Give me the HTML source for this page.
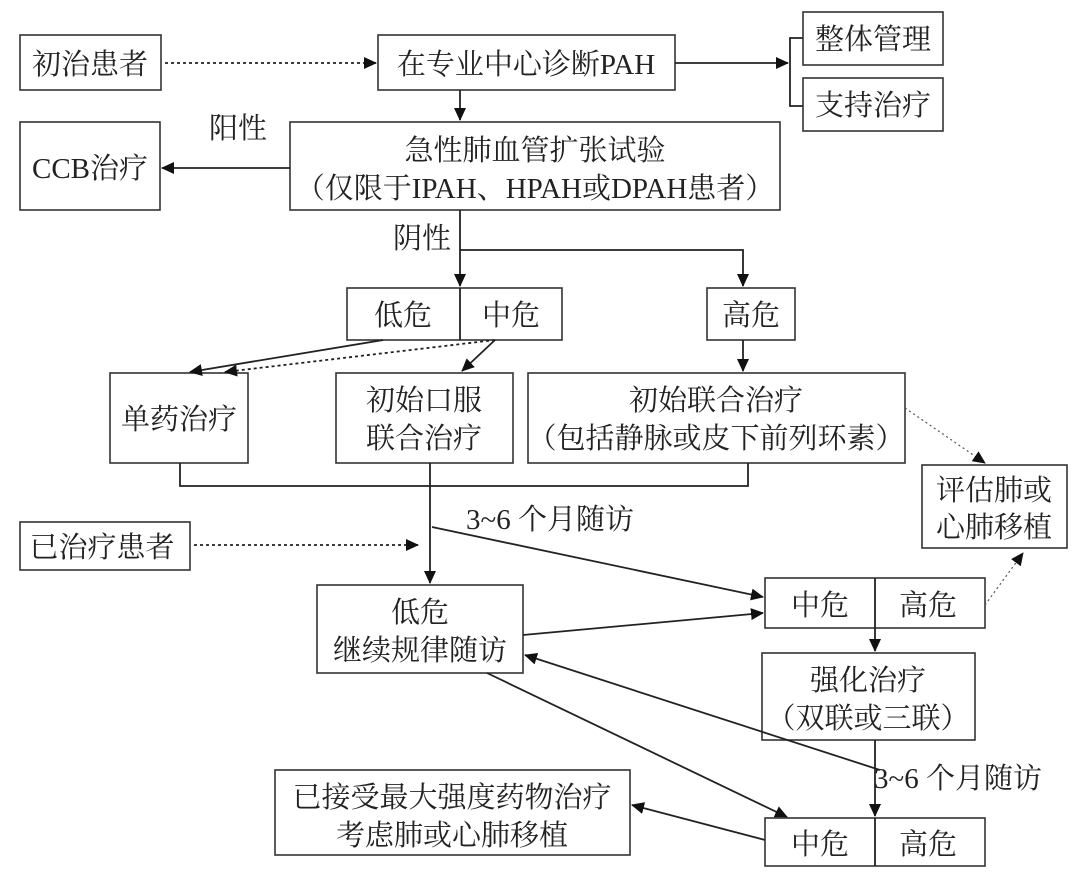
<!DOCTYPE html>
<html><head><meta charset="utf-8"><style>
html,body{margin:0;padding:0;background:#fff}
svg{display:block}
text{font-family:"Liberation Serif","Noto Serif CJK SC","Noto Sans CJK SC",serif;font-size:29px;fill:#222;text-anchor:middle}
.b{fill:#fff;stroke:#333;stroke-width:1.6}
.l{stroke:#222;stroke-width:1.8;fill:none}
.d{stroke:#222;stroke-width:1.8;fill:none;stroke-dasharray:3 3}
.t{stroke:#555;stroke-width:1.2;fill:none;stroke-dasharray:2 3}
</style></head><body>
<svg width="1080" height="875" viewBox="0 0 1080 875">
<defs><marker id="a" markerWidth="13" markerHeight="12" refX="12" refY="6" orient="auto" markerUnits="userSpaceOnUse"><path d="M0,0 L13,6 L0,12 z" fill="#111"/></marker></defs>

<rect class="b" x="20" y="35" width="141" height="55"/><text x="90" y="74">初治患者</text>
<rect class="b" x="378" y="35" width="297" height="55"/><text x="526" y="74">在专业中心诊断PAH</text>
<rect class="b" x="803" y="12" width="140" height="53"/><text x="873" y="49">整体管理</text>
<rect class="b" x="803" y="78" width="140" height="53"/><text x="873" y="115">支持治疗</text>
<path class="l" d="M803,38 H790 V106 H803"/>
<path class="l" d="M675,63 H788" marker-end="url(#a)"/>
<path class="d" d="M165,63 H376" marker-end="url(#a)"/>

<rect class="b" x="20" y="122" width="140" height="88"/><text x="90" y="178">CCB治疗</text>
<rect class="b" x="290" y="122" width="490" height="88"/>
<text x="535" y="160">急性肺血管扩张试验</text><text x="535" y="198">（仅限于IPAH、HPAH或DPAH患者）</text>
<text x="238" y="138">阳性</text>
<path class="l" d="M290,168 H162" marker-end="url(#a)"/>
<path class="l" d="M460,90 V120" marker-end="url(#a)"/>
<text x="422" y="248">阴性</text>
<path class="l" d="M460,210 V286" marker-end="url(#a)"/>
<path class="l" d="M460,250 H743 V286" marker-end="url(#a)"/>

<rect class="b" x="347" y="288" width="215" height="52"/><line class="l" x1="460" y1="288" x2="460" y2="340"/>
<text x="403" y="325">低危</text><text x="511" y="325">中危</text>
<rect class="b" x="707" y="288" width="88" height="52"/><text x="751" y="325">高危</text>
<path class="l" d="M743,340 V371" marker-end="url(#a)"/>

<rect class="b" x="110" y="373" width="138" height="90"/><text x="179" y="429">单药治疗</text>
<rect class="b" x="336" y="373" width="177" height="90"/><text x="424" y="410">初始口服</text><text x="424" y="448">联合治疗</text>
<rect class="b" x="528" y="373" width="377" height="90"/><text x="716" y="410">初始联合治疗</text><text x="716" y="448">（包括静脉或皮下前列环素）</text>
<path class="l" d="M383,340 L190,372" marker-end="url(#a)"/>
<path class="d" d="M495,340 L225,372" marker-end="url(#a)"/>
<path class="l" d="M495,340 L462,371" marker-end="url(#a)"/>
<path class="l" d="M180,463 V486 H748 V463"/>
<path class="l" d="M430,463 V583" marker-end="url(#a)"/>

<rect class="b" x="922" y="465" width="145" height="83"/><text x="994" y="500">评估肺或</text><text x="994" y="537">心肺移植</text>
<path class="t" d="M905,408 L985,463" marker-end="url(#a)"/>
<text x="550" y="529">3~6 个月随访</text>
<rect class="b" x="20" y="522" width="170" height="48"/><text x="102" y="557">已治疗患者</text>
<path class="d" d="M194,545 H418" marker-end="url(#a)"/>

<rect class="b" x="317" y="585" width="206" height="88"/><text x="420" y="622">低危</text><text x="420" y="660">继续规律随访</text>
<rect class="b" x="765" y="578" width="220" height="50"/><line class="l" x1="875" y1="578" x2="875" y2="628"/>
<text x="820" y="615">中危</text><text x="928" y="615">高危</text>
<path class="l" d="M432,527 L763,597" marker-end="url(#a)"/>
<path class="l" d="M523,635 L763,613" marker-end="url(#a)"/>
<path class="t" d="M985,605 L1023,553" marker-end="url(#a)"/>
<path class="l" d="M875,628 V651" marker-end="url(#a)"/>
<rect class="b" x="762" y="653" width="213" height="87"/><text x="868" y="690">强化治疗</text><text x="868" y="728">（双联或三联）</text>
<path class="l" d="M875,740 V816" marker-end="url(#a)"/>
<text x="958" y="788">3~6 个月随访</text>
<path class="l" d="M880,770 L525,655" marker-end="url(#a)"/>
<path class="l" d="M487,673 L787,817" marker-end="url(#a)"/>

<rect class="b" x="275" y="770" width="355" height="85"/><text x="452" y="807">已接受最大强度药物治疗</text><text x="452" y="845">考虑肺或心肺移植</text>
<rect class="b" x="765" y="818" width="220" height="48"/><line class="l" x1="875" y1="818" x2="875" y2="866"/>
<text x="820" y="854">中危</text><text x="928" y="854">高危</text>
<path class="l" d="M765,840 L632,805" marker-end="url(#a)"/>
</svg>
</body></html>
